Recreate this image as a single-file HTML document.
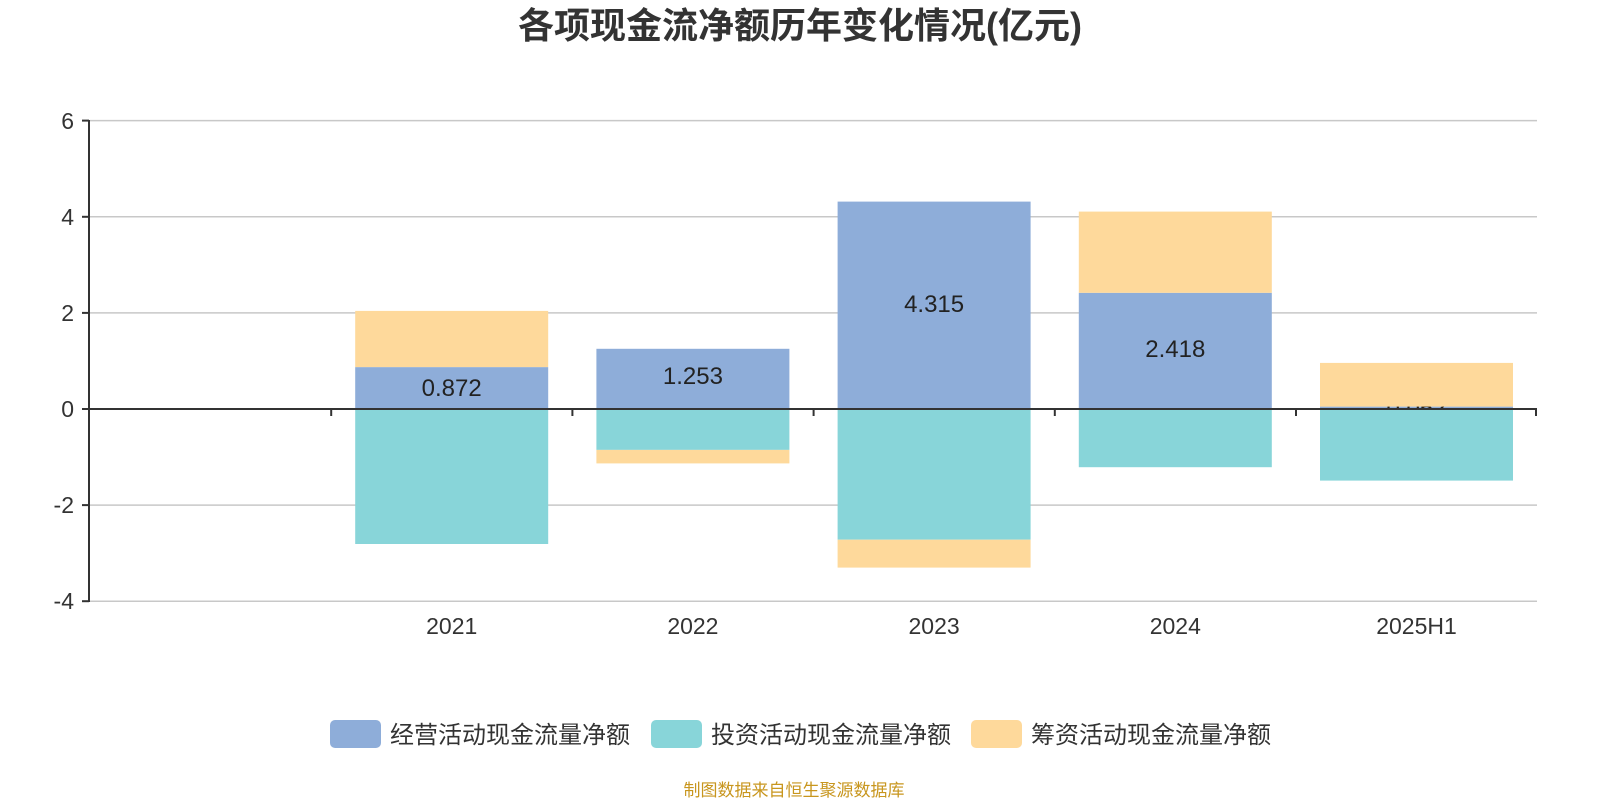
<!DOCTYPE html>
<html><head><meta charset="utf-8"><style>body{margin:0;background:#fff}svg{display:block}</style></head><body>
<svg width="1600" height="800" viewBox="0 0 1600 800" font-family="'Liberation Sans','Noto Sans CJK SC',sans-serif">
<text x="800" y="38" text-anchor="middle" font-size="36" font-weight="bold" fill="#333">各项现金流净额历年变化情况(亿元)</text>
<g stroke="#c8c8c8" stroke-width="1.5">
<line x1="90" x2="1537" y1="120.6" y2="120.6"/><line x1="90" x2="1537" y1="216.8" y2="216.8"/><line x1="90" x2="1537" y1="312.9" y2="312.9"/><line x1="90" x2="1537" y1="505.1" y2="505.1"/><line x1="90" x2="1537" y1="601.2" y2="601.2"/>
</g>
<g fill="#8eadd9">
<rect x="355.2" y="367.1" width="193" height="41.9"/>
<rect x="596.4" y="348.8" width="193" height="60.2"/>
<rect x="837.6" y="201.6" width="193" height="207.4"/>
<rect x="1078.8" y="292.8" width="193" height="116.2"/>
<rect x="1320" y="406.6" width="193" height="2.4"/>
</g>
<g font-size="24" fill="#222" text-anchor="middle">
<text x="451.7" y="396">0.872</text>
<text x="692.9" y="384">1.253</text>
<text x="934.1" y="312">4.315</text>
<text x="1175.3" y="357">2.418</text>
<text x="1416.5" y="416">0.052</text>
</g>
<g fill="#88d5d9">
<rect x="355.2" y="409" width="193" height="135"/>
<rect x="596.4" y="409" width="193" height="40.9"/>
<rect x="837.6" y="409" width="193" height="130.7"/>
<rect x="1078.8" y="409" width="193" height="58.2"/>
<rect x="1320" y="409" width="193" height="71.6"/>
</g>
<g fill="#fed99b">
<rect x="355.2" y="310.9" width="193" height="56.2"/>
<rect x="596.4" y="449.9" width="193" height="13.5"/>
<rect x="837.6" y="539.7" width="193" height="27.9"/>
<rect x="1078.8" y="211.6" width="193" height="81.2"/>
<rect x="1320" y="362.9" width="193" height="43.7"/>
</g>
<g stroke="#333" stroke-width="2">
<line x1="89" x2="89" y1="120" y2="602"/>
<line x1="89" x2="1537" y1="409" y2="409"/>
<line x1="82" x2="89" y1="120.6" y2="120.6"/><line x1="82" x2="89" y1="216.8" y2="216.8"/><line x1="82" x2="89" y1="312.9" y2="312.9"/><line x1="82" x2="89" y1="409" y2="409"/><line x1="82" x2="89" y1="505.1" y2="505.1"/><line x1="82" x2="89" y1="601.2" y2="601.2"/>
<line x1="331.2" x2="331.2" y1="409" y2="416"/><line x1="572.4" x2="572.4" y1="409" y2="416"/><line x1="813.6" x2="813.6" y1="409" y2="416"/><line x1="1054.8" x2="1054.8" y1="409" y2="416"/><line x1="1296" x2="1296" y1="409" y2="416"/><line x1="1536" x2="1536" y1="409" y2="416"/>
</g>
<g font-size="23" fill="#333" text-anchor="end">
<text x="74" y="129">6</text><text x="74" y="225">4</text><text x="74" y="321">2</text><text x="74" y="417">0</text><text x="74" y="513">-2</text><text x="74" y="609">-4</text>
</g>
<g font-size="23" fill="#333" text-anchor="middle">
<text x="451.7" y="634">2021</text><text x="692.9" y="634">2022</text><text x="934.1" y="634">2023</text><text x="1175.3" y="634">2024</text><text x="1416.5" y="634">2025H1</text>
</g>
<rect x="330" y="720" width="51" height="28" rx="5" fill="#8eadd9"/>
<text x="390" y="743" font-size="24" fill="#333">经营活动现金流量净额</text>
<rect x="651" y="720" width="51" height="28" rx="5" fill="#88d5d9"/>
<text x="711" y="743" font-size="24" fill="#333">投资活动现金流量净额</text>
<rect x="971" y="720" width="51" height="28" rx="5" fill="#fed99b"/>
<text x="1031" y="743" font-size="24" fill="#333">筹资活动现金流量净额</text>
<text x="794" y="796" text-anchor="middle" font-size="17" fill="#c8961e">制图数据来自恒生聚源数据库</text>
</svg>
</body></html>
